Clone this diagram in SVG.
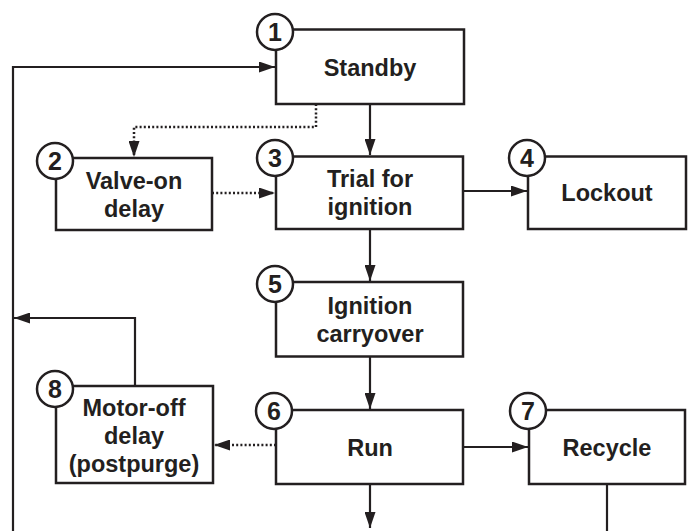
<svg xmlns="http://www.w3.org/2000/svg" width="689" height="531" viewBox="0 0 689 531">
<style>
.box{fill:#fff;stroke:#231f20;stroke-width:2.5}
.circ{fill:#fff;stroke:#231f20;stroke-width:2.5}
.lbl{font-family:"Liberation Sans",Arial,sans-serif;font-weight:bold;font-size:23.5px;fill:#231f20;text-anchor:middle}
.num{font-family:"Liberation Sans",Arial,sans-serif;font-weight:bold;font-size:25px;fill:#231f20;text-anchor:middle}
.ln{fill:none;stroke:#231f20;stroke-width:2.2}
.dot{fill:none;stroke:#231f20;stroke-width:2.5;stroke-dasharray:2 2.2}
</style>
<defs>
<marker id="ah" viewBox="0 0 16 11" refX="16" refY="5.5" markerWidth="16" markerHeight="11" markerUnits="userSpaceOnUse" orient="auto">
<path d="M0,0 L16,5.5 L0,11 Z" fill="#231f20"/>
</marker>
</defs>
<g id="connectors">
<path class="ln" d="M13,531 V67 H275" marker-end="url(#ah)"/>
<path class="ln" d="M135,386 V318 H14" marker-end="url(#ah)"/>
<path class="ln" d="M370,104 V155" marker-end="url(#ah)"/>
<path class="dot" d="M316,104 V127 H134 V157" marker-end="url(#ah)"/>
<path class="dot" d="M212,193 H275" marker-end="url(#ah)"/>
<path class="ln" d="M463,191 H527" marker-end="url(#ah)"/>
<path class="ln" d="M370,229 V281" marker-end="url(#ah)"/>
<path class="ln" d="M370,356 V409" marker-end="url(#ah)"/>
<path class="dot" d="M276,445 H214" marker-end="url(#ah)"/>
<path class="ln" d="M463,447 H528" marker-end="url(#ah)"/>
<path class="ln" d="M370,484 V528" marker-end="url(#ah)"/>
<path class="ln" d="M607,484 V531"/>
</g>
<g id="node1">
<rect class="box" x="276" y="29.5" width="188" height="74.5"/>
<circle class="circ" cx="275" cy="32" r="18"/>
<text class="num" x="275" y="41">1</text>
<text class="lbl" x="370" y="75.5">Standby</text>
</g>
<g id="node2">
<rect class="box" x="56" y="158" width="156" height="72"/>
<circle class="circ" cx="55" cy="161" r="18"/>
<text class="num" x="55" y="170">2</text>
<text class="lbl" x="134" y="188.5">Valve-on</text>
<text class="lbl" x="134" y="216.5">delay</text>
</g>
<g id="node3">
<rect class="box" x="276" y="156.5" width="187" height="72.5"/>
<circle class="circ" cx="275" cy="158" r="18"/>
<text class="num" x="275" y="167">3</text>
<text class="lbl" x="370" y="186.5">Trial for</text>
<text class="lbl" x="370" y="214.5">ignition</text>
</g>
<g id="node4">
<rect class="box" x="528" y="156.5" width="158" height="72.5"/>
<circle class="circ" cx="527" cy="158" r="18"/>
<text class="num" x="527" y="167">4</text>
<text class="lbl" x="607" y="200.5">Lockout</text>
</g>
<g id="node5">
<rect class="box" x="276" y="282" width="187" height="74.5"/>
<circle class="circ" cx="275" cy="284" r="18"/>
<text class="num" x="275" y="293">5</text>
<text class="lbl" x="370" y="313.5">Ignition</text>
<text class="lbl" x="370" y="341.5">carryover</text>
</g>
<g id="node6">
<rect class="box" x="276" y="410" width="187" height="74"/>
<circle class="circ" cx="274" cy="411" r="18"/>
<text class="num" x="274" y="420">6</text>
<text class="lbl" x="370" y="455.5">Run</text>
</g>
<g id="node7">
<rect class="box" x="529" y="410" width="156" height="74"/>
<circle class="circ" cx="528" cy="411" r="18"/>
<text class="num" x="528" y="420">7</text>
<text class="lbl" x="607" y="455.5">Recycle</text>
</g>
<g id="node8">
<rect class="box" x="56" y="386" width="157" height="97"/>
<circle class="circ" cx="55" cy="389" r="18"/>
<text class="num" x="55" y="398">8</text>
<text class="lbl" x="134" y="415.5">Motor-off</text>
<text class="lbl" x="134" y="443.5">delay</text>
<text class="lbl" x="134" y="471.5">(postpurge)</text>
</g>
</svg>
